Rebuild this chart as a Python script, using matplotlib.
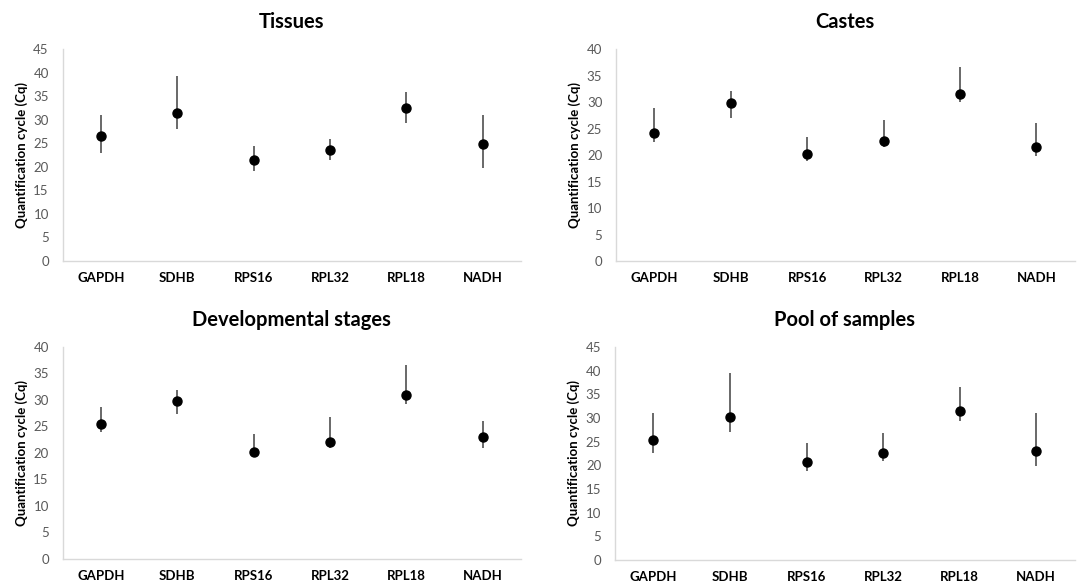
import numpy as np
from matplotlib import pyplot as plt

plt.rcParams['font.family'] = ['Lato', 'DejaVu Sans']

genes = ['GAPDH', 'SDHB', 'RPS16', 'RPL32', 'RPL18', 'NADH']

# mean Cq, min, max per panel
tissues_mean = [26.5, 31.5, 21.4, 23.5, 32.4, 24.8]
tissues_min = [23.0, 28.0, 19.2, 21.5, 29.3, 19.8]
tissues_max = [31.0, 39.3, 24.5, 26.0, 35.8, 31.0]

castes_mean = [24.1, 29.9, 20.2, 22.6, 31.6, 21.6]
castes_min = [22.5, 27.0, 18.8, 21.5, 30.0, 19.9]
castes_max = [28.8, 32.0, 23.5, 26.7, 36.6, 26.1]

dev_mean = [25.4, 29.7, 20.2, 22.0, 31.0, 23.0]
dev_min = [24.0, 27.4, 20.0, 20.9, 29.3, 21.0]
dev_max = [28.7, 31.9, 23.5, 26.8, 36.6, 26.1]

pool_mean = [25.3, 30.2, 20.6, 22.6, 31.4, 23.1]
pool_min = [22.5, 27.0, 18.8, 20.9, 29.3, 19.8]
pool_max = [31.0, 39.4, 24.7, 26.8, 36.5, 31.0]

panels = [
    ('Tissues', tissues_mean, tissues_min, tissues_max, 45, [0.058, 0.553, 0.424, 0.363]),
    ('Castes', castes_mean, castes_min, castes_max, 40, [0.570, 0.553, 0.424, 0.363]),
    ('Developmental stages', dev_mean, dev_min, dev_max, 40, [0.058, 0.043, 0.424, 0.363]),
    ('Pool of samples', pool_mean, pool_min, pool_max, 45, [0.569, 0.041, 0.425, 0.365]),
]

fig = plt.figure(figsize=(10.81, 5.84), dpi=100)

for title, mean, lo, hi, ymax, rect in panels:
    ax = fig.add_axes(rect)
    x = np.arange(len(genes))
    mean = np.array(mean)
    yerr = [mean - np.array(lo), np.array(hi) - mean]
    ax.errorbar(x, mean, yerr=yerr, fmt='o', color='black', markersize=6.5,
                ecolor='#404040', elinewidth=1.1, capsize=0, zorder=3)
    ax.set_xlim(-0.5, len(genes) - 0.5)
    ax.set_ylim(0, ymax)
    ax.set_yticks(np.arange(0, ymax + 1, 5))
    ax.set_xticks(x)
    ax.set_xticklabels(genes, fontweight='bold', fontsize=9.5)
    ax.tick_params(axis='both', length=0)
    ax.tick_params(axis='y', labelcolor='#595959', labelsize=9.5, pad=10)
    ax.tick_params(axis='x', pad=8)
    for s in ['top', 'right']:
        ax.spines[s].set_visible(False)
    for s in ['left', 'bottom']:
        ax.spines[s].set_color('#d9d9d9')
        ax.spines[s].set_linewidth(1)
    ax.set_ylabel('Quantification cycle (Cq)', fontweight='bold', fontsize=9.5)
    ax.set_title(title, fontweight='bold', fontsize=14.5, pad=15)

fig.savefig('out.png', dpi=100)
